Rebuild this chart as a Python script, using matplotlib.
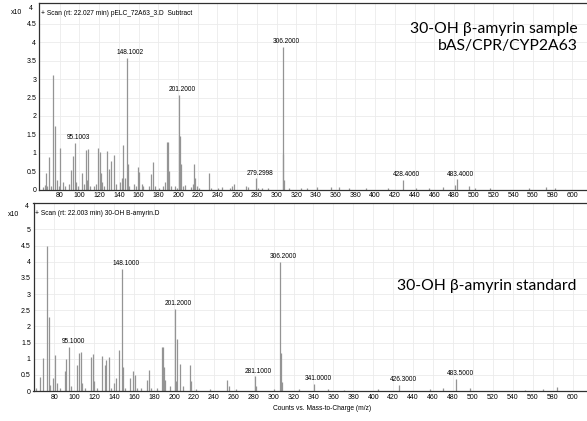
import numpy as np
import matplotlib.pyplot as plt

plt.rcParams['font.family'] = ['Liberation Sans', 'DejaVu Sans']

# --- sample spectrum (bAS/CPR/CYP2A63), intensities in counts x10^4 ---
top_mz = [63, 65, 66, 67, 69, 71, 73, 75, 77, 79, 80, 83, 85, 89, 91, 93, 95.1003, 97, 99,
          103, 105, 107, 108, 109, 111, 115, 117, 119, 121, 122, 123, 125, 128, 130, 132, 135.5,
          137, 141, 143, 144, 146, 148.1002, 149, 150, 155, 157, 159, 160, 163, 165, 171, 173,
          175, 177, 181, 185, 187, 189, 190, 191, 193, 197, 199, 201.2, 202, 203, 205, 207,
          213, 215, 216, 217, 219, 221, 231, 233, 241, 245, 253, 255, 257, 269, 271, 279.2998,
          281, 285, 291, 306.2, 307, 308, 313, 325, 331, 341, 355, 363, 373, 391, 413, 428.406,
          441, 455, 469, 481, 483.4, 495, 501, 517, 556, 573, 582]
top_int = [0.06, 0.12, 0.44, 0.10, 0.88, 0.10, 3.10, 1.72, 0.25, 0.10, 1.13, 0.20, 0.10, 0.15,
           0.52, 0.90, 1.27, 0.20, 0.10, 0.45, 0.15, 1.08, 0.25, 1.10, 0.10, 0.10, 0.15, 1.12,
           1.03, 0.45, 0.20, 0.10, 1.05, 0.57, 0.78, 0.93, 0.15, 0.20, 0.30, 1.22, 0.30, 3.58,
           0.70, 0.10, 0.15, 0.10, 0.62, 0.47, 0.15, 0.10, 0.10, 0.43, 0.75, 0.10, 0.05, 0.10,
           0.20, 1.28, 1.30, 0.50, 0.10, 0.10, 0.05, 2.57, 1.45, 0.70, 0.10, 0.12, 0.08, 0.15,
           0.68, 0.30, 0.10, 0.05, 0.44, 0.05, 0.05, 0.06, 0.05, 0.10, 0.15, 0.10, 0.06, 0.30,
           0.05, 0.05, 0.05, 3.87, 0.97, 0.25, 0.05, 0.05, 0.05, 0.07, 0.06, 0.08, 0.04, 0.05,
           0.05, 0.27, 0.05, 0.05, 0.08, 0.12, 0.28, 0.10, 0.05, 0.04, 0.04, 0.08, 0.05]
top_labels = ['95.1003', '148.1002', '201.2000', '279.2998', '306.2000', '428.4060', '483.4000']

# --- authentic standard ---
bot_mz = [62, 66, 69, 73, 75, 76, 79, 81, 83, 86, 91, 92, 95.1, 97, 103, 105, 107, 108, 111,
          117, 119, 120, 123, 128, 131, 132, 135, 137, 140, 142, 145, 148.1, 149, 151, 156,
          159, 161, 163, 167, 173, 175, 177, 183, 188, 189, 190, 191, 196, 201.2, 202, 203,
          206, 209, 216, 217, 222, 236, 253, 255, 262, 281.1, 282, 300, 306.2, 307, 308, 325,
          341.0, 355, 371, 405, 426.3, 457, 470, 483.5, 497, 552, 570, 584]
bot_int = [0.10, 0.42, 1.01, 4.50, 2.30, 0.20, 0.40, 1.11, 0.25, 0.10, 0.62, 1.00, 1.36, 0.15,
           0.82, 1.18, 1.22, 0.25, 0.10, 1.05, 1.15, 0.30, 0.10, 1.08, 0.80, 0.95, 1.05, 0.10,
           0.25, 0.40, 1.28, 3.78, 0.75, 0.10, 0.40, 0.63, 0.50, 0.10, 0.10, 0.35, 0.66, 0.10,
           0.10, 1.37, 1.37, 0.73, 0.35, 0.15, 2.55, 0.30, 1.62, 0.85, 0.15, 0.80, 0.30, 0.05,
           0.05, 0.33, 0.15, 0.05, 0.45, 0.15, 0.05, 4.00, 1.17, 0.28, 0.07, 0.22, 0.05, 0.04,
           0.06, 0.20, 0.05, 0.10, 0.38, 0.10, 0.04, 0.07, 0.13]
bot_labels = ['95.1000', '148.1000', '201.2000', '281.1000', '306.2000', '341.0000',
              '426.3000', '483.5000']

xticks = np.arange(80, 601, 20)

W, H = 587, 421
fig = plt.figure(figsize=(W / 100, H / 100), dpi=100)


def panel(rect, mz, inten, labels, ymax, yticks, scan_text, title_lines, title_xy):
    ax = fig.add_axes(rect)
    ax.set_xlim(59, 620)
    ax.set_ylim(0, ymax)
    ax.set_xticks(xticks)
    ax.set_yticks(yticks)
    ax.set_yticklabels([('%g' % v) for v in yticks])
    ax.grid(True, color='#ebebeb', lw=0.6)
    ax.set_axisbelow(True)
    ax.tick_params(length=0, labelsize=5, pad=2)
    for s in ax.spines.values():
        s.set_color('#303030')
        s.set_linewidth(0.9)

    ax.vlines(mz, 0, inten, colors='#949494', lw=0.9)

    # peak annotations
    for lab in labels:
        v = float(lab)
        i = int(np.argmin(np.abs(np.array(mz) - v)))
        ax.annotate(lab, (mz[i], inten[i]), xytext=(2.5, 1.2), textcoords='offset points',
                    ha='center', va='bottom', fontsize=4.7)

    ax.text(0.003, 0.945, '+ Scan ' + scan_text, transform=ax.transAxes, fontsize=4.8,
            va='center', ha='left')
    ax.text(title_xy[0], title_xy[1], '\n'.join(title_lines), transform=fig.transFigure,
            ha='right', va='top', fontsize=11.3, family='Lato', linespacing=1.3)
    return ax


ax1 = panel([39 / W, 1 - 189.5 / H, 553 / W, 186.2 / H], top_mz, top_int, top_labels,
            5.06, np.arange(0, 4.51, 0.5), '(rt: 22.027 min) pELC_72A63_3.D  Subtract',
            ['30-OH \u03b2-amyrin sample', 'bAS/CPR/CYP2A63'], (578 / W, 1 - 22 / H))
ax2 = panel([33.5 / W, 1 - 391 / H, 559 / W, 187.7 / H], bot_mz, bot_int, bot_labels,
            5.81, np.arange(0, 5.01, 0.5), '(rt: 22.003 min) 30-OH B-amyrin.D',
            ['30-OH \u03b2-amyrin standard'], (576 / W, 1 - 279 / H))

fig.text(11 / W, 1 - 13 / H, 'x10', fontsize=5, va='center')
fig.text(29 / W, 1 - 9 / H, '4', fontsize=5, va='center')
fig.text(8 / W, 1 - 214 / H, 'x10', fontsize=5, va='center')
fig.text(25 / W, 1 - 207 / H, '4', fontsize=5, va='center')
fig.text(322 / W, 1 - 409 / H, 'Counts vs. Mass-to-Charge (m/z)', fontsize=4.8,
         ha='center', va='center')

fig.savefig('out.png', dpi=100)
